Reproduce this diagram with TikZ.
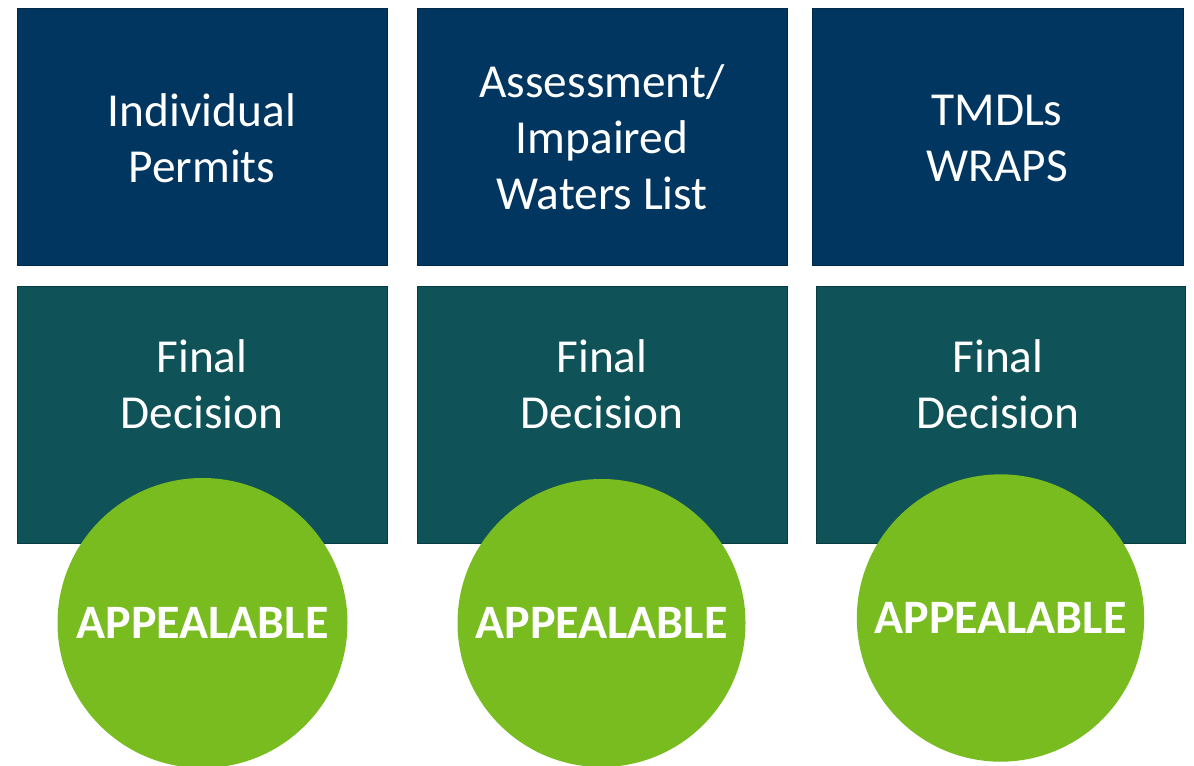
\documentclass[tikz,border=0pt]{standalone}
\usepackage{fontspec}
\setmainfont{Carlito}
\definecolor{topblue}{RGB}{0,54,96}
\definecolor{topedge}{RGB}{0,40,72}
\definecolor{teal}{RGB}{15,82,87}
\definecolor{tealedge}{RGB}{8,60,64}
\definecolor{appgreen}{RGB}{120,188,32}
\begin{document}
\begin{tikzpicture}[x=0.75pt,y=-0.75pt,
  topbox/.style={draw=topedge,line width=0.6pt,fill=topblue},
  botbox/.style={draw=tealedge,line width=0.6pt,fill=teal},
  boxtext/.style={text=white,align=center,font=\fontsize{35.5}{42}\selectfont},
  appcircle/.style={fill=appgreen,circle,inner sep=0pt,minimum size=#1},
  apptext/.style={text=white,font=\fontsize{36}{42}\selectfont\bfseries}]
\useasboundingbox (0,0) rectangle (1194,766);
% top row
\draw[topbox] (17,8) rectangle (387,265);
\draw[topbox] (417,8) rectangle (787,265);
\draw[topbox] (812,8) rectangle (1183,265);
\node[boxtext] (t1txt) at (202,138) {Individual\\Permits};
\node[boxtext] (t2txt) at (602,137) {Assessment/\\Impaired\\Waters List};
\node[boxtext] (t3txt) at (997,138) {TMDLs\\WRAPS};
% bottom row
\draw[botbox] (17,286) rectangle (387,543);
\draw[botbox] (417,286) rectangle (787,543);
\draw[botbox] (816,286) rectangle (1185,543);
\node[boxtext] (b1txt) at (202,384) {Final\\Decision};
\node[boxtext] (b2txt) at (602,384) {Final\\Decision};
\node[boxtext] (b3txt) at (998,384) {Final\\Decision};
% circles
\node[appcircle=217.5pt] (c1) at (202.5,623) {};
\node[appcircle=216pt] (c2) at (601.5,623) {};
\node[appcircle=215.5pt] (c3) at (1000.5,618) {};
\node[apptext] (a1) at (c1) {APPEALABLE};
\node[apptext] (a2) at (c2) {APPEALABLE};
\node[apptext] (a3) at (c3) {APPEALABLE};
\end{tikzpicture}
\end{document}
